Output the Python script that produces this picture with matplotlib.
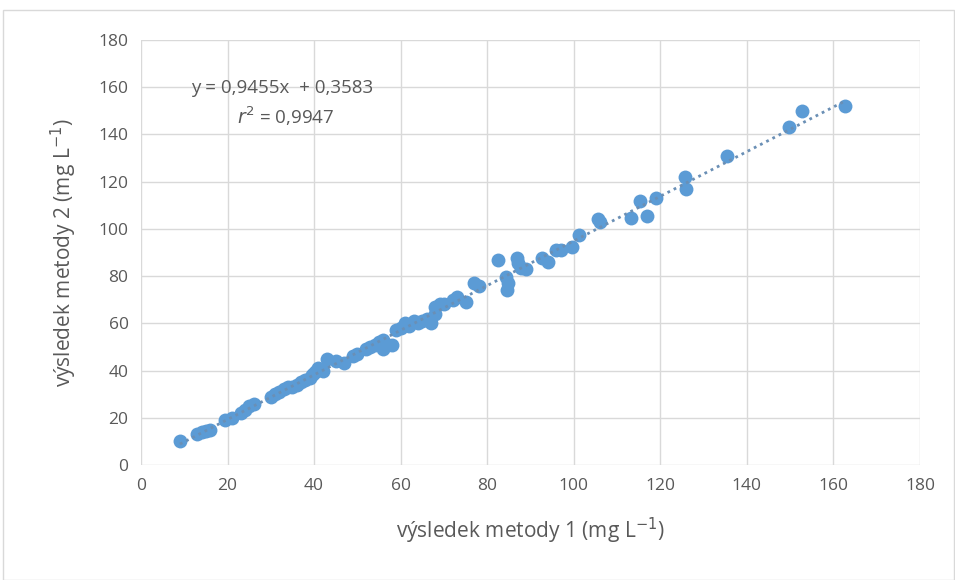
import matplotlib
matplotlib.use("Agg")
import matplotlib.pyplot as plt
import numpy as np
from matplotlib.patches import Rectangle

plt.rcParams['font.family'] = ['Open Sans', 'DejaVu Sans']

method1 = [9, 13, 14, 15, 16, 19.5, 21, 23, 24, 25, 26,
           30, 31, 32, 33, 34, 35, 36, 37, 38, 39, 39.5, 40, 40.5, 41, 42,
           43, 45, 47, 49, 50, 52, 53, 54, 55, 56, 56, 57, 58,
           59, 60, 61, 62, 63, 64, 65, 66, 67, 68, 68, 69, 70, 72, 73, 75,
           77, 78, 82.5, 84.3, 84.6, 84.8, 86.9, 87.1, 87.8, 89, 92.6, 94, 96, 97,
           99.6, 101.2, 105.6, 106, 113.2, 115.3, 116.9, 119, 125.7, 126,
           135.4, 149.7, 152.7, 162.7]
method2 = [10, 13, 14, 14.5, 15, 19, 20, 22, 23.5, 25, 26,
           29, 30, 31, 32, 33, 33, 34, 35, 36, 37, 38, 39, 40, 41, 40,
           45, 44, 43, 46, 47, 49, 50, 51, 52, 49, 53, 51, 51,
           57, 58, 60, 59, 61, 60, 61, 62, 60, 64, 67, 68, 68, 70, 71, 69,
           77, 76, 87, 79.6, 74, 77, 87.7, 85.5, 83.4, 83, 87.7, 86, 91, 91,
           92.3, 97.4, 104.2, 103, 104.6, 112, 105.5, 113, 122, 117,
           131, 143, 150, 152]

slope = 0.9455
intercept = 0.3583
equation_text = "y = 0,9455x  + 0,3583"
r2_text = "$r^2$ = 0,9947"
x_ticks = [0, 20, 40, 60, 80, 100, 120, 140, 160, 180]
y_ticks = [0, 20, 40, 60, 80, 100, 120, 140, 160, 180]

fig = plt.figure(figsize=(9.55, 5.8), dpi=100)
fig.patches.append(Rectangle((3/955, 0), 1 - 3/955 - 0.001, 1 - 10/580, transform=fig.transFigure,
                             fill=False, edgecolor='#D9D9D9', linewidth=1))
ax = fig.add_axes([141/955, 115/580, 779/955, 425/580])

blue = '#5B9BD5'
ax.scatter(method1, method2, s=100, color=blue, zorder=3, linewidths=0)
xs = np.array([min(method1), max(method1)])
ax.plot(xs, slope * xs + intercept, linestyle=(0, (1, 1.5)), color='#6A8FB5', linewidth=2, zorder=4)

ax.set_xlim(0, 180)
ax.set_ylim(0, 180)
ax.set_xticks(x_ticks)
ax.set_yticks(y_ticks)
ax.grid(True, color='#D9D9D9', linewidth=1)
ax.set_axisbelow(True)
for s in ax.spines.values():
    s.set_visible(False)
ax.tick_params(length=0, labelsize=12.5, colors='#595959', pad=9)

ax.text(32.5, 159.5, equation_text, ha='center', va='center', fontsize=13.5, color='#595959')
ax.text(33.5, 147.5, r2_text, ha='center', va='center', fontsize=13.5, color='#595959')

ax.set_xlabel("výsledek metody 1 (mg L$^{-1}$)", fontsize=15, color='#595959', labelpad=16)
ax.set_ylabel("výsledek metody 2 (mg L$^{-1}$)", fontsize=15, color='#595959', labelpad=14)

fig.savefig("out.png", dpi=100)
